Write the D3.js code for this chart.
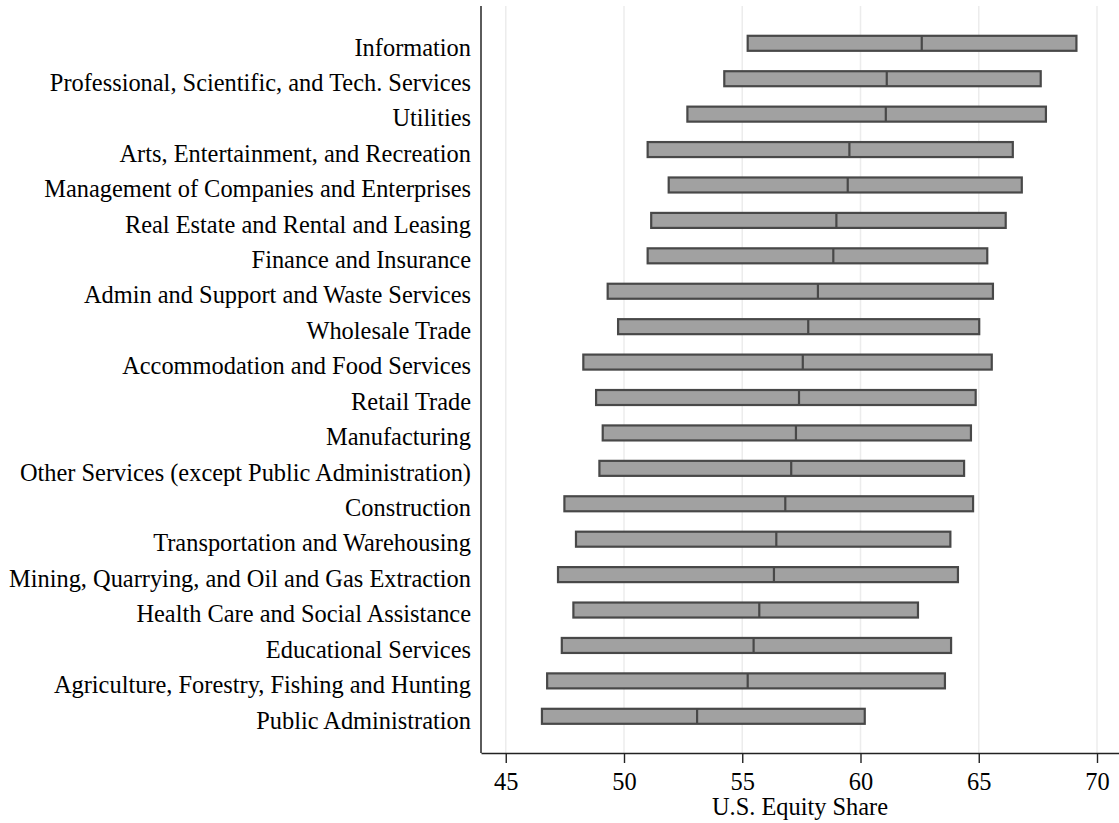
<!DOCTYPE html>
<html>
<head>
<meta charset="utf-8">
<script src="https://cdn.jsdelivr.net/npm/d3@7"></script>
<style>
  html, body { margin: 0; padding: 0; background: #fff; }
  svg { display: block; }
  text { font-family: "Liberation Serif", "Times New Roman", serif; fill: #000; }
</style>
</head>
<body>
<svg id="chart" width="1119" height="823"></svg>
<script>
const industries = [
  "Information",
  "Professional, Scientific, and Tech. Services",
  "Utilities",
  "Arts, Entertainment, and Recreation",
  "Management of Companies and Enterprises",
  "Real Estate and Rental and Leasing",
  "Finance and Insurance",
  "Admin and Support and Waste Services",
  "Wholesale Trade",
  "Accommodation and Food Services",
  "Retail Trade",
  "Manufacturing",
  "Other Services (except Public Administration)",
  "Construction",
  "Transportation and Warehousing",
  "Mining, Quarrying, and Oil and Gas Extraction",
  "Health Care and Social Assistance",
  "Educational Services",
  "Agriculture, Forestry, Fishing and Hunting",
  "Public Administration"
];
const lowValues = [55.23, 54.24, 52.68, 51.00, 51.89, 51.15, 51.00, 49.31, 49.75, 48.28,
                   48.82, 49.10, 48.96, 47.48, 47.97, 47.21, 47.86, 47.37, 46.75, 46.53];
const medianValues = [62.59, 61.11, 61.07, 59.53, 59.46, 58.98, 58.85, 58.20, 57.79, 57.56,
                      57.40, 57.27, 57.07, 56.82, 56.44, 56.34, 55.72, 55.48, 55.23, 53.09];
const highValues = [69.13, 67.62, 67.84, 66.44, 66.82, 66.14, 65.36, 65.60, 65.02, 65.55,
                    64.87, 64.67, 64.38, 64.76, 63.80, 64.12, 62.43, 63.83, 63.57, 60.18];
const xTicks = [45, 50, 55, 60, 65, 70];
const xTitle = "U.S. Equity Share";

const rows = industries.map((name, i) => ({
  name, low: lowValues[i], median: medianValues[i], high: highValues[i]
}));

const svg = d3.select("#chart");
const plotLeft = 481, plotRight = 1119, plotTop = 6, plotBottom = 753;
const fontSize = 24.4;

const x = d3.scaleLinear().domain([45, 70]).range([505.75, 1097]);
x.domain([x.invert(plotLeft), x.invert(plotRight)]).range([plotLeft, plotRight]);

const y = d3.scalePoint().domain(industries).range([43.3, 716.3]);

// gridlines
svg.append("g")
  .selectAll("line")
  .data(xTicks)
  .join("line")
  .attr("x1", d => x(d)).attr("x2", d => x(d))
  .attr("y1", plotTop).attr("y2", plotBottom)
  .attr("stroke", "#ececec")
  .attr("stroke-width", 1.5);

// bars
const barH = 15;
const bars = svg.append("g");
bars.selectAll("rect")
  .data(rows)
  .join("rect")
  .attr("x", d => x(d.low))
  .attr("y", d => y(d.name) - barH / 2)
  .attr("width", d => x(d.high) - x(d.low))
  .attr("height", barH)
  .attr("fill", "#a1a1a1")
  .attr("stroke", "#484848")
  .attr("stroke-width", 2.2);
bars.selectAll("line")
  .data(rows)
  .join("line")
  .attr("x1", d => x(d.median)).attr("x2", d => x(d.median))
  .attr("y1", d => y(d.name) - barH / 2)
  .attr("y2", d => y(d.name) + barH / 2)
  .attr("stroke", "#484848")
  .attr("stroke-width", 2.2);

// left axis line
svg.append("line")
  .attr("x1", plotLeft).attr("x2", plotLeft)
  .attr("y1", plotTop).attr("y2", plotBottom)
  .attr("stroke", "#333")
  .attr("stroke-width", 1.6);

// y labels
const yAxis = svg.append("g")
  .attr("transform", `translate(${plotLeft},0)`)
  .call(d3.axisLeft(y).tickSize(0).tickPadding(10));
yAxis.select(".domain").remove();
yAxis.selectAll("text")
  .attr("font-size", fontSize)
  .attr("fill", "#000")
  .attr("dy", null)
  .attr("y", 11.7);

// x axis
const xAxis = svg.append("g")
  .attr("transform", `translate(0,${plotBottom})`)
  .call(d3.axisBottom(x).tickValues(xTicks).tickSize(10).tickSizeOuter(0).tickFormat(d3.format("d")));
xAxis.select(".domain").attr("stroke", "#222").attr("stroke-width", 1.6);
xAxis.selectAll(".tick line").attr("stroke", "#222").attr("stroke-width", 1.4);
xAxis.selectAll("text")
  .attr("font-size", fontSize)
  .attr("fill", "#000")
  .attr("dy", null)
  .attr("y", 37);

svg.append("text")
  .attr("x", (plotLeft + plotRight) / 2)
  .attr("y", 815)
  .attr("text-anchor", "middle")
  .attr("font-size", fontSize)
  .text(xTitle);
</script>
</body>
</html>
